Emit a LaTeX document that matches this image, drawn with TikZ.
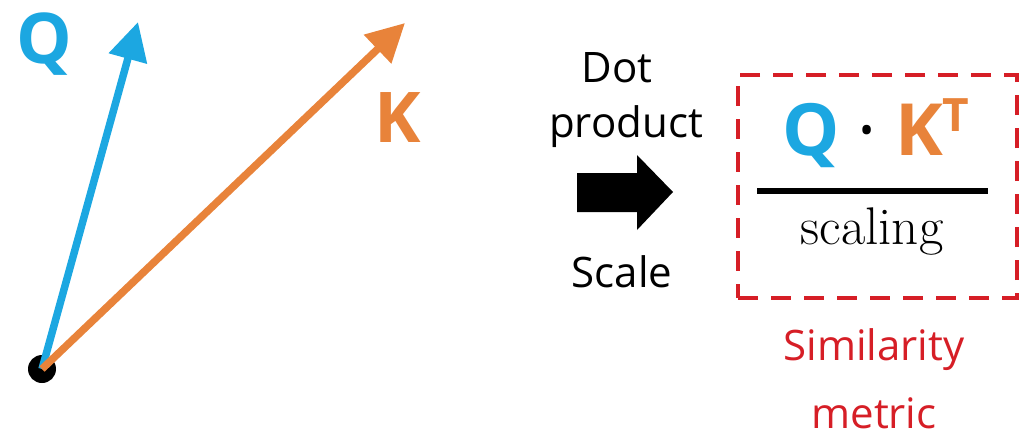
\documentclass[tikz,border=0pt]{standalone}
\usepackage{fontspec}
\setsansfont{Open Sans}
\usetikzlibrary{positioning, arrows.meta, calc}

\definecolor{qblue}{RGB}{28,167,225}
\definecolor{korange}{RGB}{232,131,58}
\definecolor{simred}{RGB}{214,30,38}

\begin{document}
\begin{tikzpicture}[
    x=1pt, y=-1pt,
    font=\sffamily,
    vec/.style={line width=7.5pt, -{Triangle[length=38pt, width=38pt]}},
    veclabel/.style={anchor=base, inner sep=0pt, font=\sffamily\bfseries\fontsize{70}{70}\selectfont},
    steplabel/.style={anchor=base, inner sep=0pt, font=\sffamily\fontsize{42}{42}\selectfont},
    simbox/.style={draw=simred, line width=3.5pt, dash pattern=on 20pt off 13pt,
        minimum width=279pt, minimum height=223pt, inner sep=0pt},
    simlabel/.style={steplabel, text=simred},
]
\useasboundingbox (0,0) rectangle (1028,442);

% vectors from a common origin
\node[circle, fill=black, minimum size=28pt, inner sep=0pt] (O) at (42,369) {};
\coordinate (qtip) at (138,22);
\coordinate (ktip) at (405,23);
\draw[vec, qblue]   (O.center) -- (qtip);
\draw[vec, korange] (O.center) -- (ktip);
\node[veclabel, text=qblue]   (qlab) at (44,63)  {Q};
\node[veclabel, text=korange] (klab) at (398,142) {K};

% step text and block arrow
\node[steplabel] (dot)  at (617,82)  {Dot};
\node[steplabel] (prod) at (626,137) {product};
\fill[black] (577,173) -- (637,173) -- (637,155) -- (673,192)
    -- (637,230) -- (637,212) -- (577,212) -- cycle;
\node[steplabel] (scl)  at (622,287) {Scale};

% similarity metric
\node[simbox] (box) at (877.5,186.5) {};
\node[anchor=base, inner sep=0pt, font=\sffamily\bfseries\fontsize{72}{72}\selectfont] (num) at (876,155)
    {\textcolor{qblue}{Q}\hspace{18pt}\textmd{·}\hspace{18pt}\textcolor{korange}{K\raisebox{24pt}{\fontsize{46}{46}\selectfont T}}};
\coordinate (barL) at (757,191);
\coordinate (barR) at (988,191);
\draw[line width=6.5pt] (barL) -- (barR);
\node[anchor=base, inner sep=0pt, font=\rmfamily\fontsize{53}{53}\selectfont] (den) at (872,244) {scaling};

\node[simlabel] (sim) at (874,360) {Similarity};
\node[simlabel] (met) at (874,428) {metric};

\end{tikzpicture}
\end{document}
